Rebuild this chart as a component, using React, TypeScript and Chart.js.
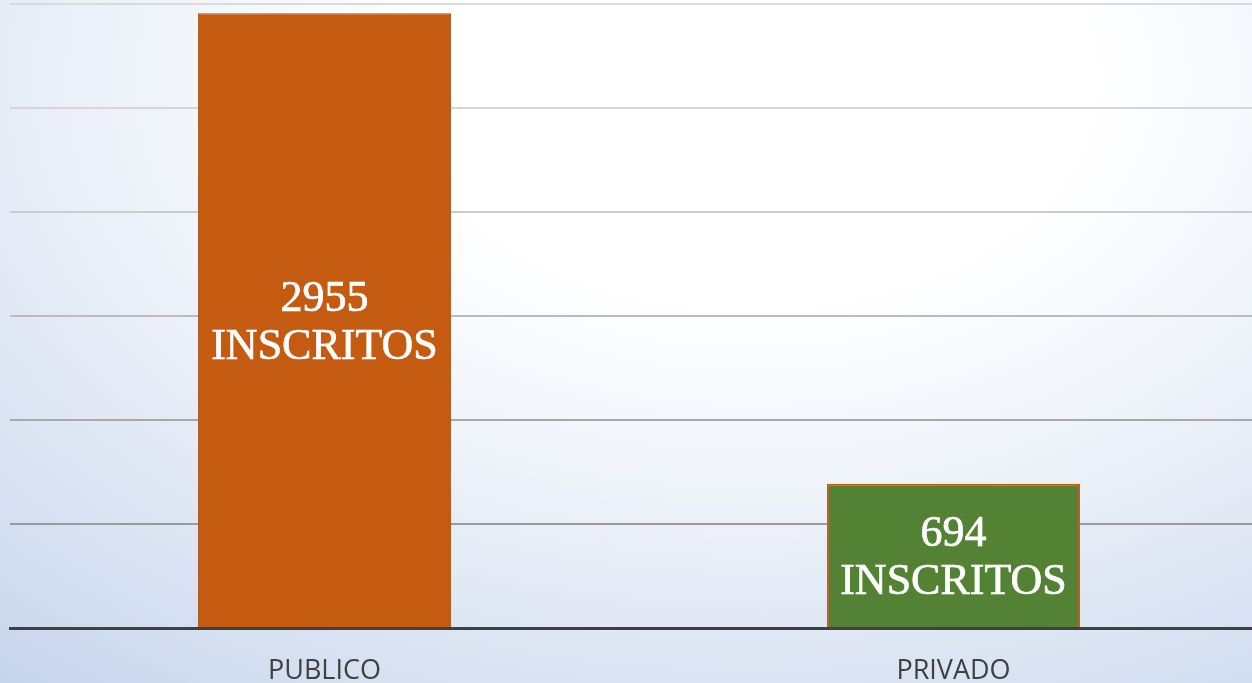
import React, { useEffect, useRef } from "react";
import { Chart, registerables } from "chart.js";

Chart.register(...registerables);

const categories = ["PUBLICO", "PRIVADO"];
const inscritos = [2955, 694];
const barColors = ["#C55A11", "#548235"];
const barBorders = ["#A9521A", "#C55A11"];
const yTicks = [0, 500, 1000, 1500, 2000, 2500, 3000];
const gridColors = ["#404040", "#9a9a9a", "#a8a8a8", "#bcbcbc", "#cccccc", "#d6d6d6", "#dadada"];
const labelSuffix = "INSCRITOS";

const labelPlugin = {
  id: "centerLabels",
  afterDatasetsDraw(chart: any) {
    const ctx = chart.ctx;
    const meta = chart.getDatasetMeta(0);
    ctx.save();
    ctx.fillStyle = "#ffffff";
    ctx.strokeStyle = "#ffffff";
    ctx.lineWidth = 0.7;
    ctx.font = '44px "Liberation Serif", "Times New Roman", serif';
    ctx.textAlign = "center";
    ctx.textBaseline = "alphabetic";
    meta.data.forEach((bar: any, i: number) => {
      const cx = bar.x;
      const cy = (bar.y + bar.base) / 2;
      const v = inscritos[i];
      ctx.fillText(String(v), cx, cy - 9);
      ctx.strokeText(String(v), cx, cy - 9);
      ctx.fillText(labelSuffix, cx, cy + 39);
      ctx.strokeText(labelSuffix, cx, cy + 39);
    });
    ctx.restore();
  },
};

export default function App() {
  const ref = useRef<HTMLCanvasElement | null>(null);
  useEffect(() => {
    document.body.style.margin = "0";
    const chart = new Chart(ref.current as HTMLCanvasElement, {
      type: "bar",
      data: {
        labels: categories,
        datasets: [
          {
            data: inscritos,
            backgroundColor: barColors,
            borderColor: barBorders,
            borderWidth: [1, 2],
            barPercentage: 0.4025,
            categoryPercentage: 1,
          },
        ],
      },
      options: {
        responsive: false,
        animation: false,
        layout: { padding: { left: 10, top: 4, right: 0, bottom: 0 } },
        plugins: { legend: { display: false }, tooltip: { enabled: false } },
        scales: {
          x: {
            grid: { display: false },
            border: { display: true, color: "#404040", width: 3 },
            ticks: {
              color: "#404040",
              font: { family: '"Open Sans", sans-serif', size: 27 },
              padding: 19,
            },
            afterFit: (s: any) => {
              s.height = 55;
            },
          },
          y: {
            min: 0,
            max: 3000,
            afterBuildTicks: (s: any) => {
              s.ticks = yTicks.map((v) => ({ value: v }));
            },
            ticks: { display: false },
            border: { display: false },
            grid: {
              drawTicks: false,
              lineWidth: 2,
              color: (c: any) => gridColors[c.index] || "#cccccc",
            },
            afterFit: (s: any) => {
              s.width = 0;
            },
          },
        },
      },
      plugins: [labelPlugin],
    });
    return () => chart.destroy();
  }, []);
  return (
    <div
      style={{
        position: "absolute",
        left: 0,
        top: 0,
        width: 1252,
        height: 683,
        overflow: "hidden",
        background:
          "radial-gradient(ellipse 95% 115% at 60% 12%, #ffffff 0%, #ffffff 28%, #eff3fa 52%, #dce5f3 75%, #c6d4ec 100%)",
      }}
    >
      <canvas ref={ref} width={1268} height={683} style={{ display: "block", width: 1268, height: 683 }} />
    </div>
  );
}
